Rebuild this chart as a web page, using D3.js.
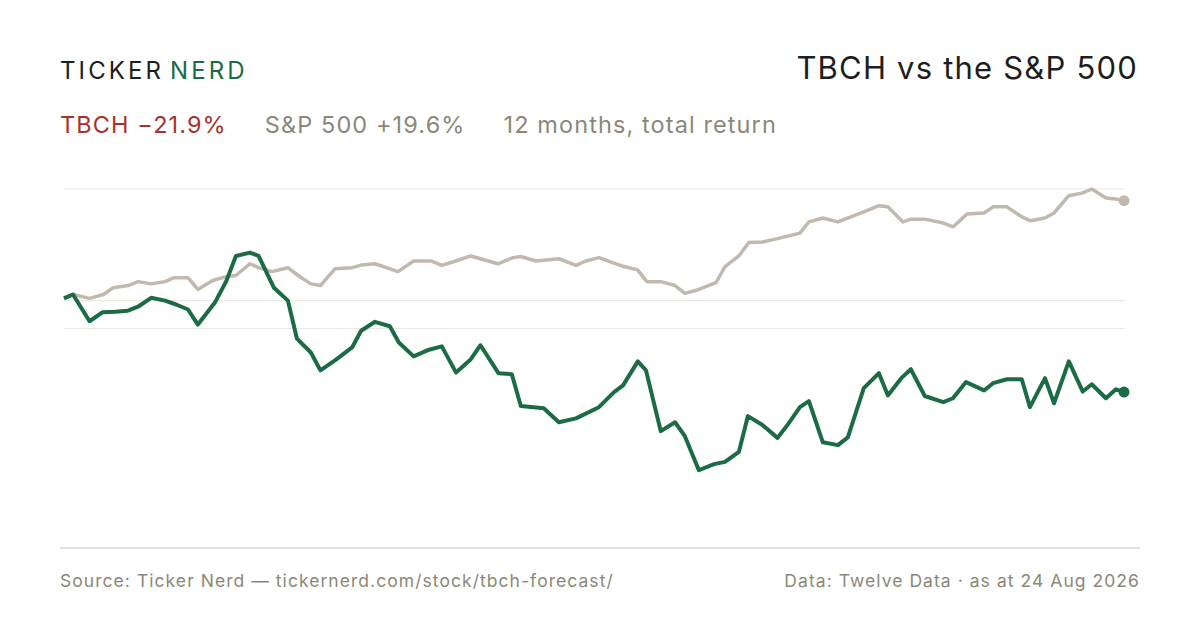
<!DOCTYPE html>
<html>
<head>
<meta charset="utf-8">
<script src="https://cdn.jsdelivr.net/npm/d3@7"></script>
<style>
  body { margin: 0; background: #fff; }
  svg { font-family: "Inter", "Liberation Sans", sans-serif; }
</style>
</head>
<body>
<svg id="chart" width="1200" height="630"></svg>
<script>
// days since start of the 12 month window
const tbchDays = [0, 3.1, 8.8, 13.2, 17.6, 22, 25.5, 30, 34.8, 38.6, 42.7, 46.1, 51.9, 55.8, 59.2, 64, 67, 72.3, 77.1, 80.2, 85, 88.3, 93.3, 99.2, 102.3, 107.1, 112.2, 115.3, 120.4, 125.7, 130.1, 135, 140.1, 143.4, 149.6, 154.2, 157.3, 165.2, 170.4, 176.3, 184.2, 189.4, 192.5, 197.6, 200.4, 205.5, 210.4, 213.8, 218.6, 223.8, 227.6, 232.4, 235.5, 240.5, 245.7, 249.1, 253.4, 256.5, 261.3, 266.5, 269.9, 275.4, 280.6, 283.7, 288.5, 291.6, 296.4, 302.8, 306.1, 310.6, 316.8, 319.9, 324.7, 329.8, 332.6, 337.8, 340.9, 346, 350.8, 353.9, 358.8, 362.2, 365]
// total return, %
const tbchReturn = [0.4, 1.1, -3.7, -2.1, -2.0, -1.8, -1.1, 0.5, 0.0, -0.7, -1.6, -4.3, -0.4, 3.4, 8.0, 8.6, 8.0, 2.3, 0.0, -6.8, -9.3, -12.5, -10.7, -8.4, -5.4, -3.8, -4.6, -7.5, -10.0, -8.8, -8.2, -12.9, -10.5, -8.0, -13.0, -13.2, -18.9, -19.3, -21.8, -21.1, -19.1, -16.4, -15.2, -10.9, -12.5, -23.4, -21.8, -24.3, -30.4, -29.3, -28.9, -27.1, -20.7, -22.3, -24.6, -22.3, -19.1, -18.0, -25.4, -25.9, -24.5, -15.7, -13.0, -17.0, -13.8, -12.3, -17.1, -18.2, -17.5, -14.6, -16.1, -14.8, -14.1, -14.1, -19.1, -13.9, -18.4, -10.9, -16.3, -15.0, -17.5, -15.9, -16.4]

const spxDays = [0, 3.1, 8.8, 13.6, 16.9, 22.2, 25.5, 30, 34.8, 37.9, 42.7, 46.1, 51.2, 55.8, 59.2, 64, 67, 71.6, 77.1, 80.6, 85, 88.3, 93.3, 99.2, 102.6, 107.1, 115, 120.4, 126.4, 130.1, 134.9, 140.1, 149.4, 154.6, 157.3, 162.5, 170.4, 176.3, 179.7, 184.2, 188.9, 192.8, 197.5, 200.7, 205.5, 210.4, 213.8, 218.6, 224.5, 227.6, 232.4, 235.8, 240.5, 245.7, 253.4, 256.5, 261.3, 266.5, 275.4, 280.6, 283.7, 288.9, 291.6, 296.4, 302.8, 306.1, 310.9, 316.8, 319.9, 324.7, 329.8, 332.9, 337.8, 340.9, 346, 350.8, 353.9, 358.8, 362.2, 365]
const spxReturn = [0.5, 1.1, 0.4, 1.1, 2.3, 2.7, 3.4, 3.0, 3.4, 4.1, 4.1, 2.0, 3.6, 4.3, 4.5, 6.6, 5.9, 5.2, 5.9, 4.5, 3.0, 2.7, 5.7, 5.9, 6.4, 6.6, 5.2, 7.1, 7.1, 6.3, 7.1, 8.0, 6.6, 7.7, 7.9, 7.1, 7.5, 6.3, 7.1, 7.7, 6.8, 6.1, 5.5, 3.4, 3.4, 2.7, 1.3, 2.0, 3.2, 6.1, 8.0, 10.4, 10.5, 11.1, 12.1, 14.1, 14.8, 14.1, 15.9, 17.0, 16.8, 14.1, 14.6, 14.6, 13.9, 13.2, 15.5, 15.7, 16.8, 16.8, 15.0, 14.3, 14.8, 15.7, 18.8, 19.3, 20.0, 18.4, 18.2, 17.9]

const gridValues = [20, 0, -5]

const green = "#1b6b45"
const grey = "#c1b9ad"

const svg = d3.select("#chart")

var x = d3.scaleLinear().domain([0, 365]).range([64, 1124])
var y = d3.scaleLinear().domain([-5, 20]).range([328.5, 189])

// header
svg.append("text").attr("x", 60).attr("y", 79)
  .attr("font-size", 24).attr("letter-spacing", 3.1).attr("fill", "#1e1e1e")
  .text("TICKER")
  .append("tspan").attr("dx", 6).attr("fill", green).text("NERD")

svg.append("text").attr("x", 1138).attr("y", 79).attr("text-anchor", "end")
  .attr("font-size", 31).attr("letter-spacing", 1.2).attr("fill", "#1e1e1e").text("TBCH vs the S&P 500")

var sub = svg.append("text").attr("x", 60).attr("y", 133).attr("font-size", 23.5)
  .attr("letter-spacing", 1.1)
sub.append("tspan").attr("fill", "#a8322a").text("TBCH \u221221.9%")
sub.append("tspan").attr("dx", 38).attr("fill", "#8c8778").text("S&P 500 +19.6%")
sub.append("tspan").attr("dx", 38).attr("fill", "#8c8778").text("12 months, total return")

// gridlines
svg.selectAll(".grid").data(gridValues).enter().append("line")
  .attr("x1", 64).attr("x2", 1124)
  .attr("y1", d => y(d)).attr("y2", d => y(d))
  .attr("stroke", "#ebe8e2").attr("stroke-width", 1.2)

var line = d3.line().x(d => x(d[0])).y(d => y(d[1]))

var spx = spxDays.map((d, i) => [d, spxReturn[i]])
var tbch = tbchDays.map((d, i) => [d, tbchReturn[i]])

svg.append("path").datum(spx).attr("d", line)
  .attr("fill", "none").attr("stroke", grey).attr("stroke-width", 3.5)
  .attr("stroke-linejoin", "round")
svg.append("path").datum(tbch).attr("d", line)
  .attr("fill", "none").attr("stroke", green).attr("stroke-width", 4)
  .attr("stroke-linejoin", "round")

svg.append("circle").attr("cx", x(spx[spx.length - 1][0])).attr("cy", y(spx[spx.length - 1][1]))
  .attr("r", 5.5).attr("fill", grey)
svg.append("circle").attr("cx", x(tbch[tbch.length - 1][0])).attr("cy", y(tbch[tbch.length - 1][1]))
  .attr("r", 5.5).attr("fill", green)

// footer
svg.append("line").attr("x1", 60).attr("x2", 1140).attr("y1", 548).attr("y2", 548)
  .attr("stroke", "#dcd7cc").attr("stroke-width", 1.5)

svg.append("text").attr("x", 60).attr("y", 587).attr("font-size", 17.5).attr("letter-spacing", 1.05)
  .attr("fill", "#8c8778")
  .text("Source: Ticker Nerd \u2014 tickernerd.com/stock/tbch-forecast/")
svg.append("text").attr("x", 1140).attr("y", 587).attr("text-anchor", "end")
  .attr("font-size", 17.5).attr("letter-spacing", 1.05).attr("fill", "#8c8778")
  .text("Data: Twelve Data \u00b7 as at 24 Aug 2026")
</script>
</body>
</html>
